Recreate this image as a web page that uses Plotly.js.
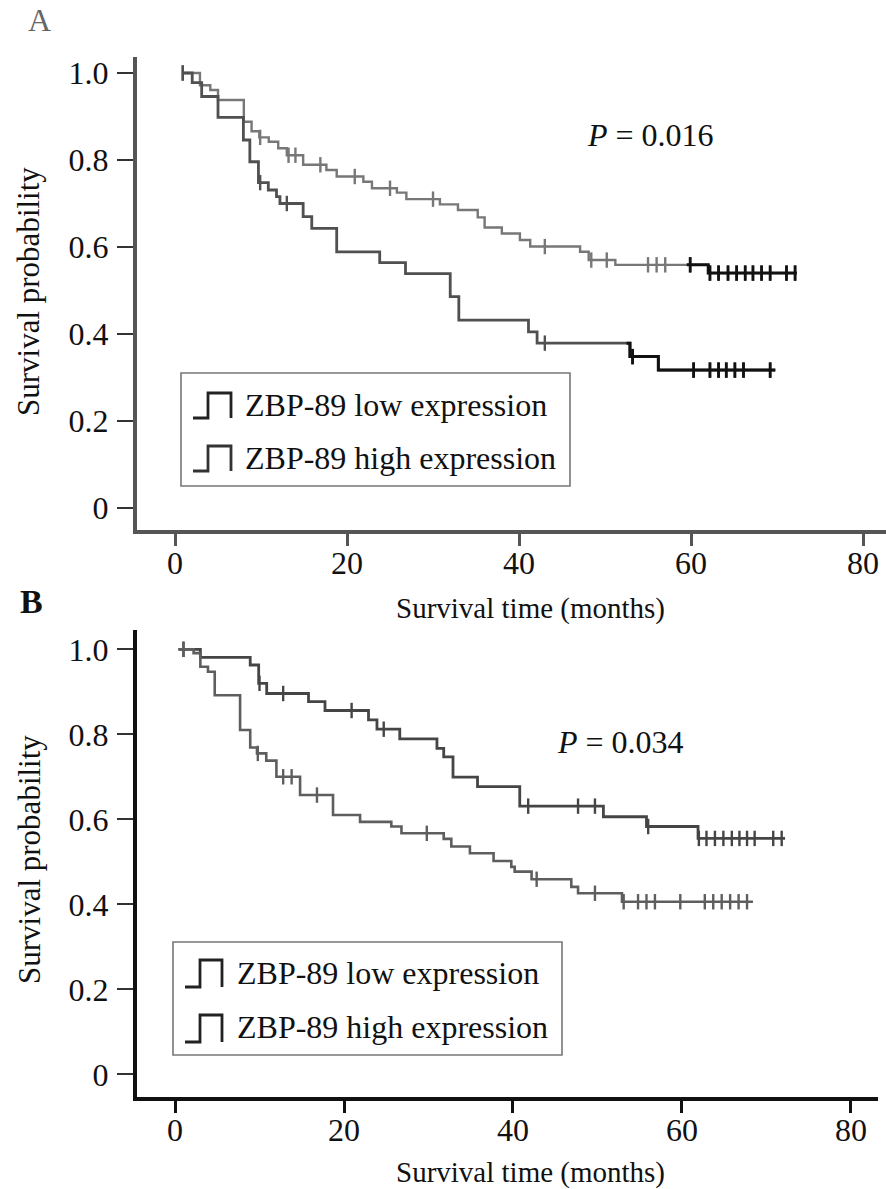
<!DOCTYPE html>
<html><head><meta charset="utf-8">
<script src="https://cdn.plot.ly/plotly-3.0.1.min.js"></script>
<style>html,body{margin:0;padding:0;background:#fff}#chart{width:886px;height:1189px}</style>
</head><body><div id="chart"></div>
<script>
// ---------------- DATA ----------------
const xTickVals = [0, 20, 40, 60, 80];
const xTickText = ["0", "20", "40", "60", "80"];
const yTickVals = [0, 0.2, 0.4, 0.6, 0.8, 1.0];
const yTickText = ["0", "0.2", "0.4", "0.6", "0.8", "1.0"];
const legendLabels = ["ZBP-89 low expression", "ZBP-89 high expression"];

// Panel A – lower curve (low expression)
const aLowStart = 0.9, aLowEnd = 69.8;
const aLowTimes = [2.0, 3.1, 5.0, 7.95, 8.7, 9.7, 10.85, 11.8, 12.2, 14.9, 15.9, 18.8, 23.8, 26.8, 32.0, 33.0, 41.1, 42.1, 52.9, 56.2];
const aLowSurv  = [0.978, 0.946, 0.898, 0.846, 0.796, 0.748, 0.731, 0.716, 0.700, 0.670, 0.643, 0.589, 0.564, 0.539, 0.486, 0.432, 0.405, 0.379, 0.348, 0.317];
const aLowCens  = [0.9, 9.9, 13.0, 43.0, 53.2, 60.3, 62.2, 63.2, 64.1, 65.1, 66.1, 69.2];
const aLowDarkFrom = 52.5;

// Panel A – upper curve (high expression)
const aHighStart = 0.9, aHighEnd = 72.3;
const aHighTimes = [2.9, 4.1, 5.0, 8.0, 8.9, 9.8, 10.9, 12.0, 13.0, 14.9, 17.6, 18.8, 21.9, 22.9, 25.8, 26.9, 30.8, 32.9, 35.2, 36.0, 38.0, 40.1, 41.3, 47.1, 48.1, 51.2, 62.0];
const aHighSurv  = [0.972, 0.961, 0.938, 0.888, 0.866, 0.852, 0.842, 0.827, 0.811, 0.789, 0.777, 0.762, 0.750, 0.735, 0.725, 0.710, 0.698, 0.685, 0.668, 0.645, 0.631, 0.616, 0.601, 0.589, 0.570, 0.559, 0.540];
const aHighCens  = [0.9, 9.9, 13.2, 14.0, 16.9, 20.9, 25.0, 30.0, 43.0, 48.4, 50.2, 55.0, 56.0, 57.0, 59.9, 62.2, 63.2, 64.3, 65.3, 66.3, 67.2, 68.2, 69.2, 71.1, 72.1];
const aHighDarkFrom = 59.5;

// Panel B – upper curve (low expression)
const bLowStart = 0.4, bLowEnd = 72.2;
const bLowTimes = [3.0, 8.9, 9.9, 10.85, 15.8, 17.75, 22.9, 23.9, 26.6, 31.0, 31.8, 32.9, 35.8, 40.8, 50.7, 55.8, 61.9];
const bLowSurv  = [0.981, 0.963, 0.920, 0.896, 0.877, 0.856, 0.834, 0.812, 0.789, 0.767, 0.747, 0.699, 0.677, 0.631, 0.606, 0.583, 0.555];
const bLowCens  = [1.0, 10.0, 12.8, 20.9, 24.7, 41.8, 47.7, 49.7, 56.0, 62.0, 62.9, 63.9, 64.9, 65.9, 66.8, 67.7, 68.6, 70.8, 71.8];

// Panel B – lower curve (high expression)
const bHighStart = 0.4, bHighEnd = 68.4;
const bHighTimes = [2.2, 3.0, 3.9, 4.7, 7.7, 8.9, 9.7, 10.8, 12.0, 14.8, 18.7, 21.9, 25.6, 26.8, 31.8, 32.7, 34.9, 37.7, 39.8, 40.2, 42.2, 46.9, 47.7, 52.9];
const bHighSurv  = [0.991, 0.959, 0.947, 0.892, 0.810, 0.769, 0.755, 0.738, 0.700, 0.657, 0.610, 0.594, 0.583, 0.567, 0.554, 0.536, 0.520, 0.502, 0.488, 0.477, 0.459, 0.441, 0.426, 0.406];
const bHighCens  = [1.0, 9.8, 12.8, 13.8, 16.8, 29.8, 42.8, 49.7, 53.1, 54.8, 55.8, 56.8, 59.8, 62.7, 63.7, 64.7, 65.7, 66.7, 67.7];

// ---------------- HELPERS ----------------
const W = 886, H = 1189;
const fx = p => p / W;
const fy = p => 1 - p / H;
const FONT = "Liberation Serif, Times New Roman, serif";

function stepXY(start, times, surv, end) {
  return { x: [start, ...times, end], y: [1, ...surv, surv[surv.length - 1]] };
}
function survAt(times, surv, t) {
  let s = 1;
  for (let i = 0; i < times.length; i++) if (times[i] <= t) s = surv[i];
  return s;
}
function tail(xy, from, times, surv) {
  const x = [from], y = [survAt(times, surv, from)];
  for (let i = 0; i < xy.x.length; i++) if (xy.x[i] > from) { x.push(xy.x[i]); y.push(xy.y[i]); }
  return { x, y };
}
function curve(start, times, surv, end, cens, color, width, xa, ya) {
  const xy = stepXY(start, times, surv, end);
  return [
    { type: "scatter", mode: "lines", x: xy.x, y: xy.y, line: { shape: "hv", color: color, width: width },
      xaxis: xa, yaxis: ya, hoverinfo: "skip" },
    { type: "scatter", mode: "markers", x: cens, y: cens.map(t => survAt(times, surv, t)),
      marker: { symbol: "line-ns", size: 11, line: { color: color, width: 2.4 } },
      xaxis: xa, yaxis: ya, hoverinfo: "skip" }
  ];
}
function tailCurve(start, times, surv, end, cens, from, color, width, xa, ya) {
  const xy = stepXY(start, times, surv, end);
  const t = tail(xy, from, times, surv);
  const c = cens.filter(v => v >= from);
  return [
    { type: "scatter", mode: "lines", x: t.x, y: t.y, line: { shape: "hv", color: color, width: width },
      xaxis: xa, yaxis: ya, hoverinfo: "skip" },
    { type: "scatter", mode: "markers", x: c, y: c.map(v => survAt(times, surv, v)),
      marker: { symbol: "line-ns", size: 11, line: { color: color, width: 2.8 } },
      xaxis: xa, yaxis: ya, hoverinfo: "skip" }
  ];
}

const traces = [
  ...curve(aHighStart, aHighTimes, aHighSurv, aHighEnd, aHighCens, "#777777", 2.4, "x", "y"),
  ...curve(aLowStart, aLowTimes, aLowSurv, aLowEnd, aLowCens, "#505050", 2.8, "x", "y"),
  ...tailCurve(aHighStart, aHighTimes, aHighSurv, aHighEnd, aHighCens, aHighDarkFrom, "#111111", 3, "x", "y"),
  ...tailCurve(aLowStart, aLowTimes, aLowSurv, aLowEnd, aLowCens, aLowDarkFrom, "#111111", 3, "x", "y"),
  ...curve(bLowStart, bLowTimes, bLowSurv, bLowEnd, bLowCens, "#454545", 2.8, "x2", "y2"),
  ...curve(bHighStart, bHighTimes, bHighSurv, bHighEnd, bHighCens, "#5e5e5e", 2.6, "x2", "y2")
];

// ---------------- AXES ----------------
function xAxis(domain, range, lineColor, anchor) {
  return {
    domain: domain, range: range, anchor: anchor,
    showline: true, linecolor: lineColor, linewidth: 3.5, mirror: false,
    ticks: "outside", ticklen: 12, tickwidth: 3, tickcolor: lineColor,
    ticklabelstandoff: -10,
    tickvals: xTickVals, ticktext: xTickText,
    tickfont: { family: FONT, size: 32, color: "#111" },
    showgrid: false, zeroline: false, fixedrange: true
  };
}
function yAxis(domain, range, lineColor, anchor) {
  return {
    domain: domain, range: range, anchor: anchor,
    showline: true, linecolor: lineColor, linewidth: 4,
    ticks: "outside", ticklen: 16, tickwidth: 2, tickcolor: "#333",
    ticklabelstandoff: 2,
    tickvals: yTickVals, ticktext: yTickText,
    tickfont: { family: FONT, size: 32, color: "#111" },
    showgrid: false, zeroline: false, fixedrange: true
  };
}

// ---------------- LEGEND / ANNOTATIONS ----------------
const shapes = [];
const annotations = [];
function rectPx(x0, y0, x1, y1, color, w) {
  shapes.push({ type: "rect", xref: "paper", yref: "paper", x0: fx(x0), x1: fx(x1), y0: fy(y1), y1: fy(y0),
    line: { color: color, width: w }, fillcolor: "rgba(0,0,0,0)" });
}
function iconPx(x0, xm, x1, yTop, yBot, color) {
  const path = `M ${fx(x0)} ${fy(yBot)} L ${fx(xm)} ${fy(yBot)} L ${fx(xm)} ${fy(yTop)} L ${fx(x1)} ${fy(yTop)} L ${fx(x1)} ${fy(yBot)}`;
  shapes.push({ type: "path", xref: "paper", yref: "paper", path: path, line: { color: color, width: 2.8 } });
}
function textPx(x, y, text, size, opts) {
  annotations.push(Object.assign({
    xref: "paper", yref: "paper", x: fx(x), y: fy(y), text: text, showarrow: false,
    xanchor: "left", yanchor: "middle", font: { family: FONT, size: size, color: "#111" }
  }, opts || {}));
}

// Panel A legend
rectPx(181, 373, 570, 486, "#777", 1.6);
iconPx(193, 208, 231, 393, 418, "#222");
iconPx(193, 208, 231, 446, 471, "#333");
textPx(243, 405, legendLabels[0], 32);
textPx(243, 458, legendLabels[1], 32);

// Panel B legend
rectPx(173, 942, 562, 1055, "#777", 1.6);
iconPx(185, 200, 222, 960, 987, "#222");
iconPx(185, 200, 222, 1015, 1042, "#222");
textPx(235, 973, legendLabels[0], 32);
textPx(235, 1027, legendLabels[1], 32);

// Panel letters
textPx(39, 20, "A", 32, { xanchor: "center", font: { family: FONT, size: 32, color: "#666" } });
textPx(31, 601, "<b>B</b>", 34, { xanchor: "center" });

// P values
textPx(650, 135, "<i>P</i> = 0.016", 32, { xanchor: "center" });
textPx(620, 742, "<i>P</i> = 0.034", 32, { xanchor: "center" });

// Axis titles
textPx(530, 608, "Survival time (months)", 29, { xanchor: "center" });
textPx(530, 1172, "Survival time (months)", 29, { xanchor: "center" });
textPx(29, 292, "Survival probability", 31, { xanchor: "center", textangle: -90 });
textPx(29, 860, "Survival probability", 31, { xanchor: "center", textangle: -90 });

const layout = {
  width: W, height: H, margin: { l: 0, r: 0, t: 0, b: 0 },
  paper_bgcolor: "#fff", plot_bgcolor: "#fff", showlegend: false,
  xaxis: xAxis([137 / W, 1], [-4.42, 82.67], "#555", "y"),
  yaxis: yAxis([1 - 530 / H, 1 - 57 / H], [-0.0506, 1.0368], "#555", "x"),
  xaxis2: xAxis([137 / W, 878 / W], [-4.5, 83.2], "#111", "y2"),
  yaxis2: yAxis([1 - 1097 / H, 1 - 630 / H], [-0.0534, 1.0454], "#111", "x2"),
  shapes: shapes, annotations: annotations
};

Plotly.newPlot("chart", traces, layout, { staticPlot: true, displayModeBar: false });
</script>
</body></html>
